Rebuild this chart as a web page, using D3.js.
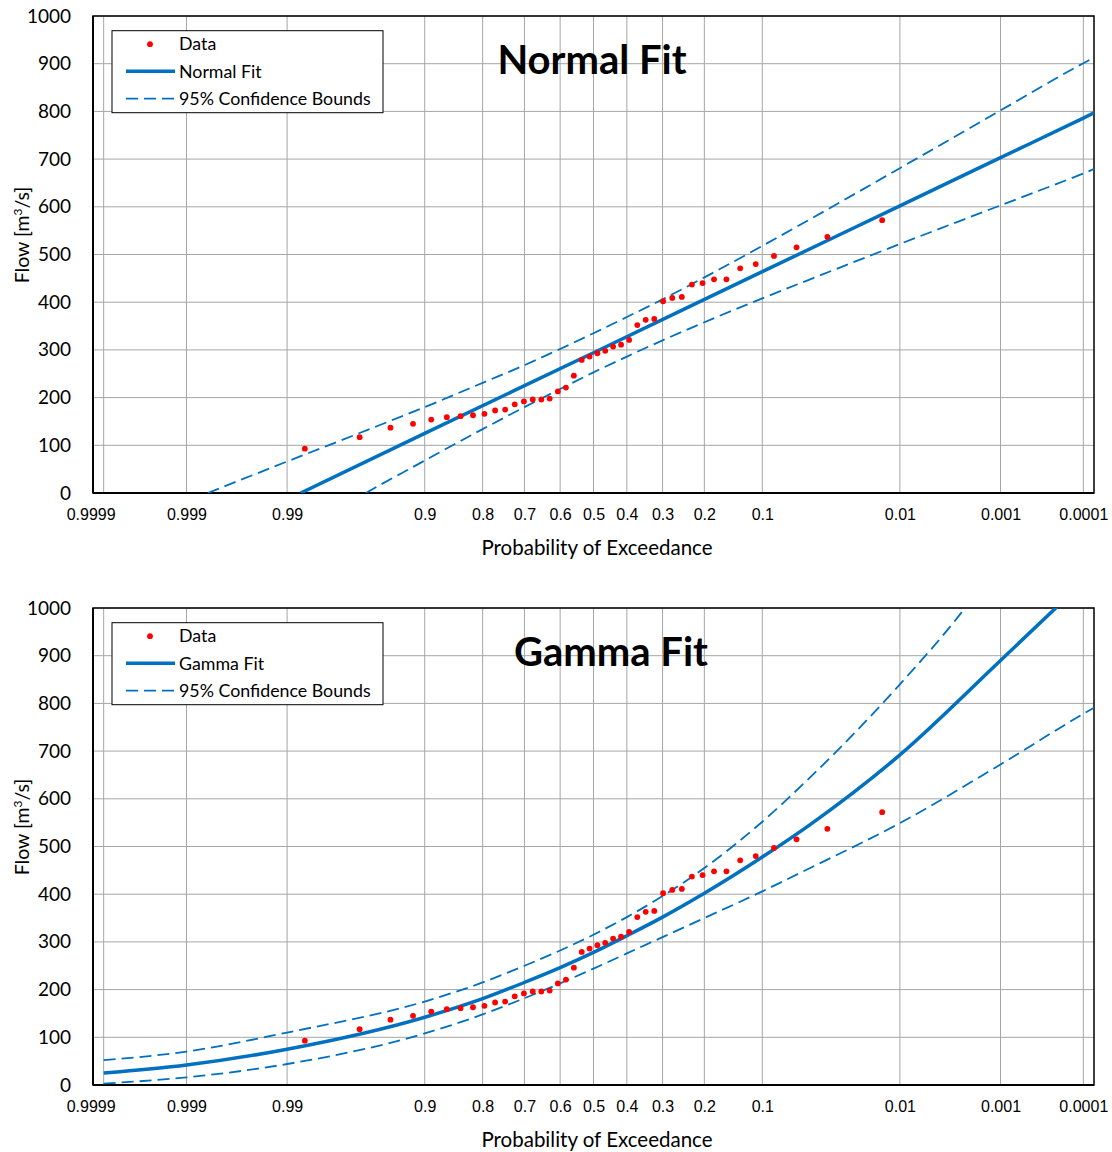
<!DOCTYPE html>
<html>
<head>
<meta charset="utf-8">
<script src="https://cdn.jsdelivr.net/npm/d3@7"></script>
<style>
  body { margin: 0; background: #fff; }
  svg { display: block; }
</style>
</head>
<body>
<svg id="chart" width="1112" height="1152"></svg>
<script>
// ---------- data ----------
const probTicks  = [0.9999, 0.999, 0.99, 0.9, 0.8, 0.7, 0.6, 0.5, 0.4, 0.3, 0.2, 0.1, 0.01, 0.001, 0.0001];
const probLabels = ["0.9999", "0.999", "0.99", "0.9", "0.8", "0.7", "0.6", "0.5", "0.4", "0.3", "0.2", "0.1", "0.01", "0.001", "0.0001"];
const flowTicks  = [0, 100, 200, 300, 400, 500, 600, 700, 800, 900, 1000];

// observed flows and their exceedance probabilities
const dataP = [0.9858, 0.9621, 0.9384, 0.9147, 0.8910, 0.8673, 0.8436, 0.8199, 0.7962, 0.7725,
               0.7488, 0.7251, 0.7014, 0.6777, 0.6540, 0.6303, 0.6066, 0.5829, 0.5592, 0.5356,
               0.5119, 0.4882, 0.4645, 0.4408, 0.4171, 0.3934, 0.3697, 0.3460, 0.3223, 0.2986,
               0.2749, 0.2512, 0.2275, 0.2038, 0.1801, 0.1564, 0.1327, 0.1090, 0.0853, 0.0616,
               0.0379, 0.0142];
const dataFlow = [93, 117, 137, 145, 154, 159, 161, 163, 166, 173,
                  175, 186, 192, 196, 196, 198, 213, 221, 246, 279,
                  286, 293, 298, 307, 311, 321, 352, 363, 365, 402,
                  409, 411, 437, 440, 448, 448, 471, 480, 497, 515,
                  537, 572];

// normal fit
const normalFitP   = [0.9869, 0.9, 0.5, 0.1, 0.01, 0.001, 0.0001, 0.00007];
const normalFitQ   = [0, 125, 294, 464, 602, 703, 786, 798];
const normalUpperP = [0.9983, 0.99, 0.95, 0.9, 0.8, 0.7, 0.6, 0.5, 0.4, 0.3, 0.2, 0.1, 0.05, 0.01, 0.001, 0.0001, 0.00007];
const normalUpperQ = [0, 66, 140, 180, 231, 268, 302, 335, 369, 406, 452, 518, 574, 681, 802, 901, 914];
const normalLowerP = [0.958, 0.95, 0.9, 0.8, 0.7, 0.6, 0.5, 0.4, 0.3, 0.2, 0.1, 0.05, 0.01, 0.001, 0.0001, 0.00007];
const normalLowerQ = [0, 13, 68, 134, 180, 218, 253, 286, 320, 358, 408, 448, 522, 603, 670, 680];

// gamma fit
const gammaFitP   = [0.9999, 0.999, 0.99, 0.9, 0.8, 0.7, 0.6, 0.5, 0.4, 0.3, 0.2, 0.1, 0.05, 0.01, 0.001, 0.0002];
const gammaFitQ   = [25, 42, 75, 142, 181, 215, 246, 278, 313, 352, 402, 478, 546, 692, 890, 1008];
const gammaUpperP = [0.9999, 0.999, 0.99, 0.9, 0.8, 0.7, 0.6, 0.5, 0.4, 0.3, 0.2, 0.1, 0.05, 0.01, 0.0024, 0.0015];
const gammaUpperQ = [52, 70, 110, 175, 215, 250, 282, 315, 352, 396, 455, 552, 645, 840, 1000, 1055];
const gammaLowerP = [0.9999, 0.999, 0.99, 0.9, 0.8, 0.7, 0.6, 0.5, 0.4, 0.3, 0.2, 0.1, 0.05, 0.01, 0.001, 0.0001, 0.00007];
const gammaLowerQ = [3, 16, 44, 108, 148, 182, 213, 244, 276, 310, 350, 406, 455, 549, 672, 778, 792];

// ---------- helpers ----------
// inverse standard normal CDF (Acklam)
function qnorm(p) {
  const a = [-3.969683028665376e+01, 2.209460984245205e+02, -2.759285104469687e+02, 1.383577518672690e+02, -3.066479806614716e+01, 2.506628277459239e+00];
  const b = [-5.447609879822406e+01, 1.615858368580409e+02, -1.556989798598866e+02, 6.680131188771972e+01, -1.328068155288572e+01];
  const c = [-7.784894002430293e-03, -3.223964580411365e-01, -2.400758277161838e+00, -2.549732539343734e+00, 4.374664141464968e+00, 2.938163982698783e+00];
  const d = [7.784695709041462e-03, 3.224671290700398e-01, 2.445134137142996e+00, 3.754408661907416e+00];
  const pl = 0.02425;
  let q, r;
  if (p < pl) {
    q = Math.sqrt(-2 * Math.log(p));
    return (((((c[0]*q+c[1])*q+c[2])*q+c[3])*q+c[4])*q+c[5]) / ((((d[0]*q+d[1])*q+d[2])*q+d[3])*q+1);
  }
  if (p > 1 - pl) {
    q = Math.sqrt(-2 * Math.log(1 - p));
    return -(((((c[0]*q+c[1])*q+c[2])*q+c[3])*q+c[4])*q+c[5]) / ((((d[0]*q+d[1])*q+d[2])*q+d[3])*q+1);
  }
  q = p - 0.5; r = q * q;
  return (((((a[0]*r+a[1])*r+a[2])*r+a[3])*r+a[4])*r+a[5])*q / (((((b[0]*r+b[1])*r+b[2])*r+b[3])*r+b[4])*r+1);
}
// exceedance probability -> normal variate
const zOf = p => qnorm(1 - p);
const zip = (ps, qs) => ps.map((p, i) => [p, qs[i]]);

const BLUE = "#0070C0";
const svg = d3.select("#chart");
const left = 93, right = 1094, plotH = 477;

const x = d3.scaleLinear().domain([-3.8, 3.8]).range([left, right]);

function drawPanel(top, title, titleX, fitName, fit, upper, lower, idx) {
  const y = d3.scaleLinear().domain([0, 1000]).range([top + plotH, top]);
  const g = svg.append("g");

  g.append("clipPath").attr("id", "clip" + idx)
    .append("rect").attr("x", left).attr("y", top).attr("width", right - left).attr("height", plotH);

  // gridlines
  g.append("g").selectAll("line").data(flowTicks).enter().append("line")
    .attr("x1", left).attr("x2", right)
    .attr("y1", d => y(d)).attr("y2", d => y(d))
    .attr("stroke", "#a6a6a6").attr("stroke-width", 1);
  g.append("g").selectAll("line").data(probTicks).enter().append("line")
    .attr("x1", d => x(zOf(d))).attr("x2", d => x(zOf(d)))
    .attr("y1", top).attr("y2", top + plotH)
    .attr("stroke", "#a6a6a6").attr("stroke-width", 1);

  // axes
  const ax = g.append("g").attr("transform", `translate(0,${top + plotH})`)
    .call(d3.axisBottom(x).tickValues(probTicks.map(zOf)).tickFormat((d, i) => probLabels[i]).tickSize(0).tickPadding(15.5));
  ax.select(".domain").remove();
  ax.selectAll("text").attr("font-family", "'Liberation Sans', Arial, sans-serif").attr("font-size", "16px").attr("fill", "#000")
    .attr("dx", (d, i) => i === 0 ? -13 : 0);

  const ay = g.append("g").attr("transform", `translate(${left},0)`)
    .call(d3.axisLeft(y).tickValues(flowTicks).tickFormat(d3.format("d")).tickSize(0).tickPadding(22));
  ay.select(".domain").remove();
  ay.selectAll("text").attr("font-family", "Lato, sans-serif").attr("font-size", "19px").attr("fill", "#000");

  // frame
  g.append("rect").attr("x", left).attr("y", top).attr("width", right - left).attr("height", plotH)
    .attr("fill", "none").attr("stroke", "#000").attr("stroke-width", 1.5);
  g.append("line").attr("x1", left).attr("x2", right).attr("y1", top + plotH).attr("y2", top + plotH)
    .attr("stroke", "#000").attr("stroke-width", 2.2);
  g.append("line").attr("x1", left).attr("x2", left).attr("y1", top).attr("y2", top + plotH)
    .attr("stroke", "#000").attr("stroke-width", 2);

  // curves
  const line = d3.line().x(d => x(zOf(d[0]))).y(d => y(d[1])).curve(d3.curveMonotoneX);
  const plot = g.append("g").attr("clip-path", `url(#clip${idx})`);
  [upper, lower].forEach(b => {
    plot.append("path").attr("d", line(b)).attr("fill", "none")
      .attr("stroke", BLUE).attr("stroke-width", 1.8).attr("stroke-dasharray", "12,6");
  });
  plot.append("path").attr("d", line(fit)).attr("fill", "none")
    .attr("stroke", BLUE).attr("stroke-width", 3.5);

  plot.selectAll("circle").data(zip(dataP, dataFlow)).enter().append("circle")
    .attr("cx", d => x(zOf(d[0]))).attr("cy", d => y(d[1])).attr("r", 2.9).attr("fill", "#ff0000");

  // title
  g.append("text").attr("x", titleX).attr("y", top + 58).attr("text-anchor", "middle")
    .attr("font-family", "Lato, sans-serif").attr("font-weight", "bold").attr("font-size", "40px")
    .attr("fill", "#000").text(title);

  // legend
  const lg = g.append("g").attr("transform", `translate(112,${top + 14.7})`);
  lg.append("rect").attr("width", 271).attr("height", 82).attr("fill", "#fff").attr("stroke", "#000").attr("stroke-width", 1);
  lg.append("circle").attr("cx", 38).attr("cy", 13.5).attr("r", 2.9).attr("fill", "#ff0000");
  lg.append("line").attr("x1", 14).attr("x2", 63).attr("y1", 40.5).attr("y2", 40.5).attr("stroke", BLUE).attr("stroke-width", 3.5);
  lg.append("line").attr("x1", 14).attr("x2", 63).attr("y1", 68).attr("y2", 68).attr("stroke", BLUE)
    .attr("stroke-width", 1.8).attr("stroke-dasharray", "12,6");
  lg.selectAll("text.lab").data(["Data", fitName, "95% Confidence Bounds"]).enter().append("text")
    .attr("class", "lab").attr("x", 67).attr("y", (d, i) => 13.5 + i * 27.3).attr("dy", "0.35em")
    .attr("font-family", "Lato, sans-serif").attr("font-size", "17.8px").attr("fill", "#000").text(d => d);

  // axis titles
  g.append("text").attr("x", 597).attr("y", top + plotH + 62).attr("text-anchor", "middle")
    .attr("font-family", "Lato, sans-serif").attr("font-size", "20.5px").attr("fill", "#000")
    .text("Probability of Exceedance");
  const yt = g.append("text").attr("transform", `translate(29,${top + 219}) rotate(-90)`).attr("text-anchor", "middle")
    .attr("font-family", "Lato, sans-serif").attr("font-size", "19.5px").attr("fill", "#000");
  yt.append("tspan").text("Flow [m");
  yt.append("tspan").attr("font-size", "12px").attr("dy", "-7").text("3");
  yt.append("tspan").attr("dy", "7").text("/s]");
}

drawPanel(16, "Normal Fit", 592, "Normal Fit",
  zip(normalFitP, normalFitQ), zip(normalUpperP, normalUpperQ), zip(normalLowerP, normalLowerQ), 0);
drawPanel(608, "Gamma Fit", 611, "Gamma Fit",
  zip(gammaFitP, gammaFitQ), zip(gammaUpperP, gammaUpperQ), zip(gammaLowerP, gammaLowerQ), 1);
</script>
</body>
</html>
